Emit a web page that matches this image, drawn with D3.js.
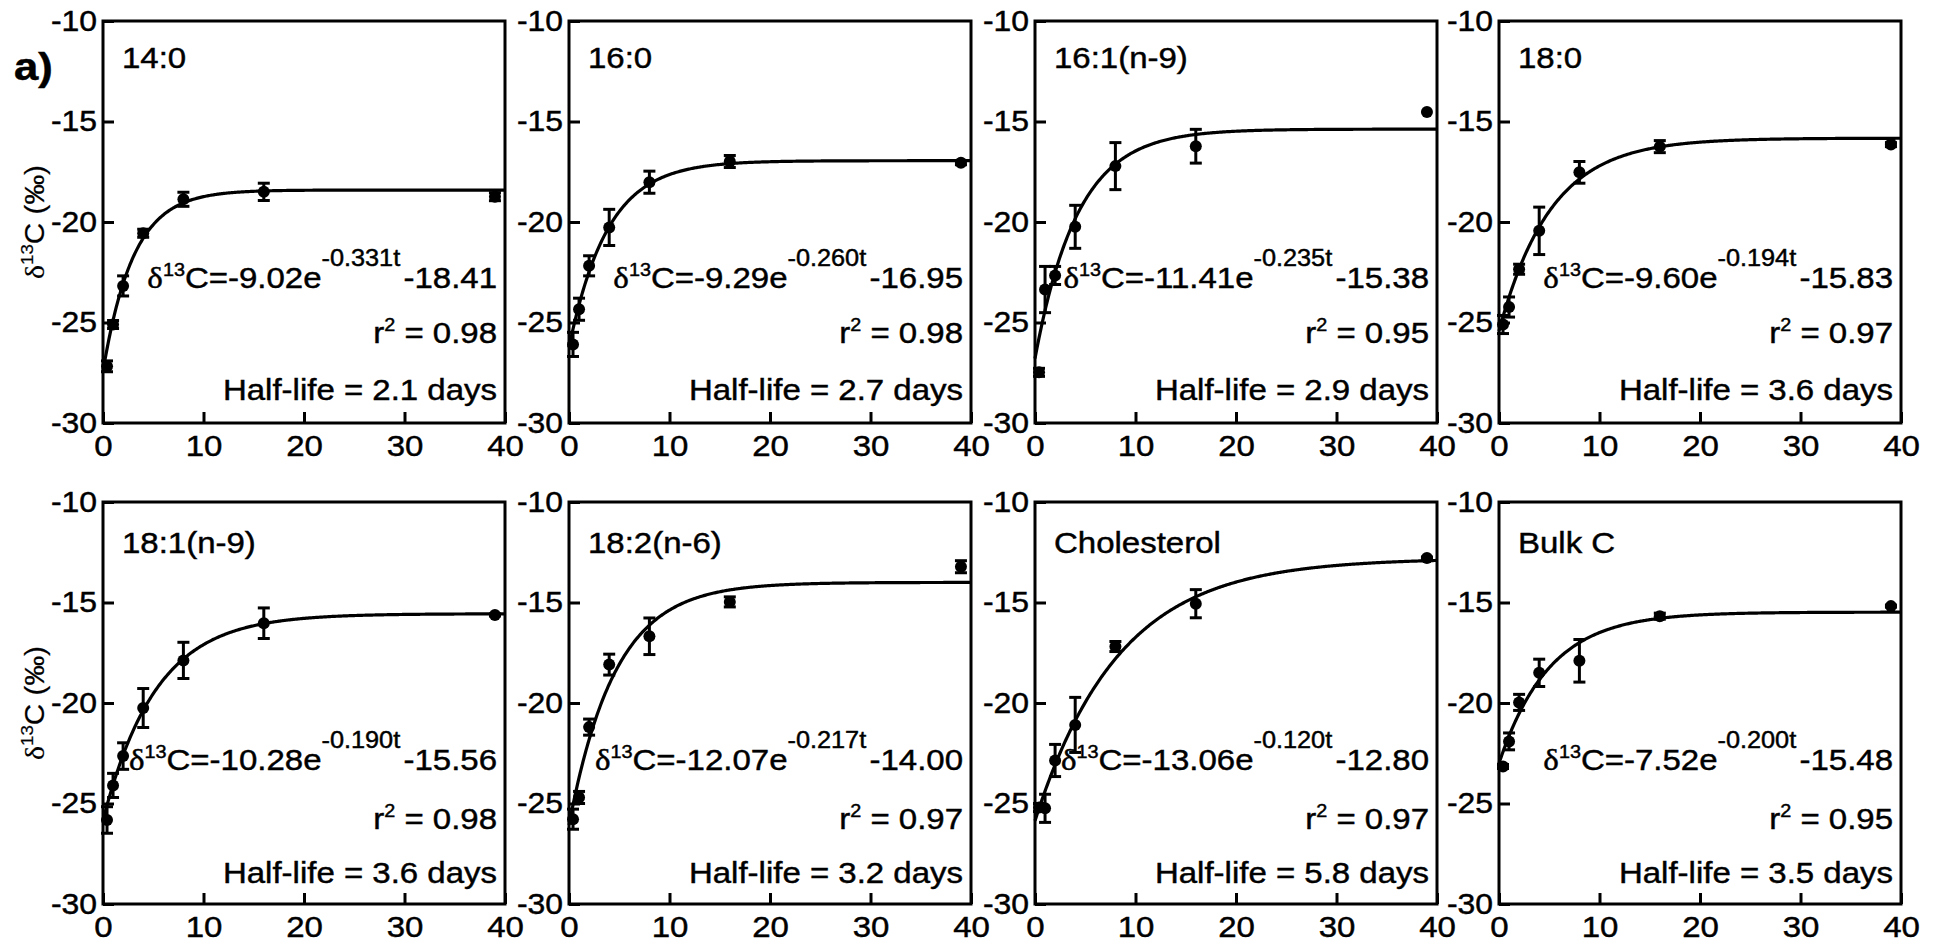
<!DOCTYPE html>
<html>
<head>
<meta charset="utf-8">
<script src="https://cdn.jsdelivr.net/npm/d3@7"></script>
<style>
  html, body { margin: 0; padding: 0; background: #fff; }
  svg text { font-family: "Liberation Sans", Arial, Helvetica, sans-serif; fill: #000; stroke: #000; stroke-width: 0.45px; }
</style>
</head>
<body>
<svg id="chart" width="1938" height="946"></svg>
<script>
// Compound measured in each panel
const panelNames = ["14:0", "16:0", "16:1(n-9)", "18:0", "18:1(n-9)", "18:2(n-6)", "Cholesterol", "Bulk C"];

// Sampling times (days)
const days = [0.4, 1, 2, 4, 8, 16, 39];

// Mean δ13C (‰) at each sampling time, one row per panel
const meanValues = [
  [-27.18, -25.10, -23.18, -20.56, -18.87, -18.50, -18.74],
  [-26.09, -24.34, -22.18, -20.27, -18.02, -16.99, -17.05],
  [-27.48, -23.36, -22.66, -20.24, -17.22, -16.23, -14.53],
  [-25.10, -24.23, -22.35, -20.44, -17.53, -16.25, -16.15],
  [-25.82, -24.10, -22.64, -20.25, -17.88, -16.03, -15.62],
  [-25.78, -24.70, -21.20, -18.09, -16.68, -14.97, -13.22],
  [-25.20, -25.24, -22.86, -21.09, -17.19, -15.06, -12.79],
  [-23.16, -21.91, -19.97, -18.50, -17.90, -15.68, -15.18]
];

// Standard error of each mean (‰)
const errValues = [
  [0.27, 0.20, 0.50, 0.20, 0.35, 0.43, 0.20],
  [0.60, 0.55, 0.50, 0.90, 0.55, 0.30, 0.10],
  [0.20, 1.15, 0.45, 1.07, 1.17, 0.84, 0.00],
  [0.45, 0.50, 0.25, 1.18, 0.54, 0.30, 0.10],
  [0.66, 0.60, 0.66, 0.97, 0.90, 0.76, 0.05],
  [0.50, 0.30, 0.40, 0.52, 0.91, 0.25, 0.30],
  [0.20, 0.70, 0.80, 1.37, 0.25, 0.70, 0.05],
  [0.10, 0.42, 0.40, 0.68, 1.06, 0.15, 0.05]
];

// Exponential fit: δ13C = A·e^(−k·t) + C
const fitA = [-9.02, -9.29, -11.41, -9.60, -10.28, -12.07, -13.06, -7.52];
const fitK = [0.331, 0.260, 0.235, 0.194, 0.190, 0.217, 0.120, 0.200];
const fitC = [-18.41, -16.95, -15.38, -15.83, -15.56, -14.00, -12.80, -15.48];
const rSquared = [0.98, 0.98, 0.95, 0.97, 0.98, 0.97, 0.97, 0.95];
const halfLives = [2.1, 2.7, 2.9, 3.6, 3.6, 3.2, 5.8, 3.5];

const xTicks = [0, 10, 20, 30, 40];
const yTicks = [-10, -15, -20, -25, -30];

// ---- layout ----
const svg = d3.select("#chart");
const W = 402, H = 402;
const colLeft = [103, 569, 1035, 1499];
const rowTop = [21, 502];
const titleOff = [47, 51], eqOff = [267, 268], r2Off = [322, 327], hlOff = [379, 381];
const SX = 1.1; // horizontal stretch of the lettering
const SERIF = "'Liberation Serif', 'Times New Roman', serif";

const x = d3.scaleLinear().domain([0, 40]).range([0, W]);
const y = d3.scaleLinear().domain([-30, -10]).range([H, 0]);
const tFine = d3.range(0, 40.0001, 0.1);
const line = d3.line().x(d => x(d[0])).y(d => y(d[1]));

function stretchedText(parent, px, py, anchor, size) {
  return parent.append("text")
    .attr("transform", `translate(${px},${py}) scale(${SX},1)`)
    .attr("text-anchor", anchor)
    .style("font-size", size + "px");
}

panelNames.forEach((name, i) => {
  const col = i % 4, row = Math.floor(i / 4);
  const g = svg.append("g").attr("transform", `translate(${colLeft[col]},${rowTop[row]})`);

  // fitted curve
  const A = fitA[i], k = fitK[i], C = fitC[i];
  g.append("path")
    .datum(tFine.map(t => [t, A * Math.exp(-k * t) + C]))
    .attr("d", line)
    .attr("fill", "none").attr("stroke", "#000").attr("stroke-width", 3.2);

  // error bars
  const pts = days.map((t, j) => ({ t, m: meanValues[i][j], e: errValues[i][j] }));
  const eb = g.append("g").attr("stroke", "#000").attr("stroke-width", 3).attr("fill", "none");
  pts.filter(p => p.e > 0).forEach(p => {
    const cx = x(p.t), y1 = y(p.m - p.e), y2 = y(p.m + p.e);
    eb.append("line").attr("x1", cx).attr("x2", cx).attr("y1", y1).attr("y2", y2);
    eb.append("line").attr("x1", cx - 6).attr("x2", cx + 6).attr("y1", y1).attr("y2", y1);
    eb.append("line").attr("x1", cx - 6).attr("x2", cx + 6).attr("y1", y2).attr("y2", y2);
  });

  // mean points
  g.append("g").selectAll("circle").data(pts).join("circle")
    .attr("cx", p => x(p.t)).attr("cy", p => y(p.m)).attr("r", 6).attr("fill", "#000");

  // axes with inward ticks
  const gx = g.append("g").attr("transform", `translate(0,${H})`)
    .call(d3.axisBottom(x).tickValues(xTicks).tickSize(-11).tickPadding(12).tickFormat(d => String(d)));
  const gy = g.append("g")
    .call(d3.axisLeft(y).tickValues(yTicks).tickSize(-11).tickFormat(d => String(d)));
  [gx, gy].forEach(a => {
    a.select(".domain").remove();
    a.selectAll(".tick line").attr("stroke", "#000").attr("stroke-width", 3);
    a.selectAll(".tick text").attr("fill", "#000").attr("font-family", null);
  });
  gx.selectAll(".tick text").style("font-size", "30px").attr("transform", `scale(${SX},1)`);
  gy.selectAll(".tick text").style("font-size", "29px").attr("x", -6 / SX).attr("transform", `scale(${SX},1)`);

  // frame
  g.append("rect").attr("width", W).attr("height", H)
    .attr("fill", "none").attr("stroke", "#000").attr("stroke-width", 3);

  // compound name
  stretchedText(g, 19, titleOff[row], "start", 30).text(name);

  // fitted equation
  const eq = stretchedText(g, W - 8, eqOff[row], "end", 30);
  eq.append("tspan").style("font-family", SERIF).style("font-size", "30px").text("δ");
  eq.append("tspan").style("font-size", "18px").attr("dy", -12).text("13");
  eq.append("tspan").style("font-size", "30px").attr("dy", 12).text("C=" + A.toFixed(2) + "e");
  eq.append("tspan").style("font-size", "23px").attr("dy", -22).text("-" + k.toFixed(3) + "t");
  eq.append("tspan").style("font-size", "30px").attr("dy", 22).attr("dx", 3).text(C.toFixed(2));

  // goodness of fit
  const r2 = stretchedText(g, W - 8, r2Off[row], "end", 30);
  r2.append("tspan").style("font-size", "30px").text("r");
  r2.append("tspan").style("font-size", "18px").attr("dy", -12).text("2");
  r2.append("tspan").style("font-size", "30px").attr("dy", 12).text(" = " + rSquared[i].toFixed(2));

  // half-life
  stretchedText(g, W - 8, hlOff[row], "end", 30).text("Half-life = " + halfLives[i].toFixed(1) + " days");
});

// y-axis titles, one per row
rowTop.forEach(top => {
  const t = svg.append("text")
    .attr("transform", `translate(44,${top + H / 2}) rotate(-90) scale(${SX},1)`)
    .attr("text-anchor", "middle")
    .style("font-size", "27px").style("stroke-width", "0.2px");
  t.append("tspan").style("font-family", SERIF).style("font-size", "27px").text("δ");
  t.append("tspan").style("font-size", "17px").attr("dy", -11).text("13");
  t.append("tspan").style("font-size", "27px").attr("dy", 11).text("C (‰)");
});

// figure part label
svg.append("text")
  .attr("transform", "translate(14,80) scale(1.15,1)")
  .style("font-size", "38px").style("font-weight", "bold").text("a)");
</script>
</body>
</html>
